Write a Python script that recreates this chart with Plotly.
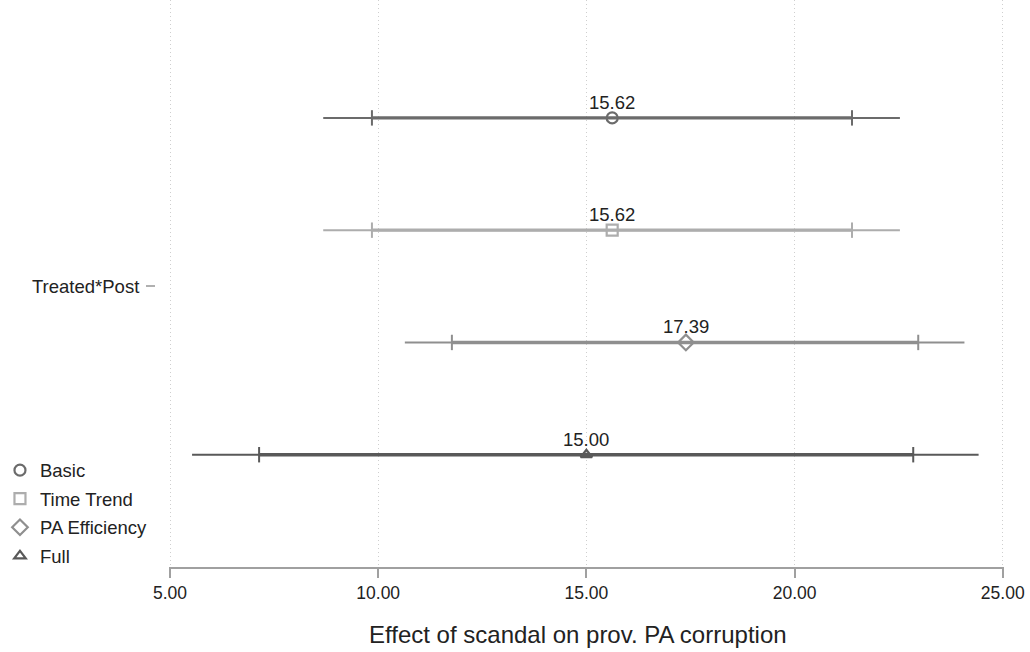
import plotly.graph_objects as go

# Model estimates for the Treated*Post coefficient
models = ["Basic", "Time Trend", "PA Efficiency", "Full"]
estimates = [15.62, 15.62, 17.39, 15.00]
ci90_low = [9.85, 9.85, 11.77, 7.14]
ci90_high = [21.38, 21.38, 22.97, 22.85]
ci95_low = [8.68, 8.68, 10.64, 5.53]
ci95_high = [22.53, 22.53, 24.08, 24.42]
rows = [4, 3, 2, 1]

colors = ["#6b6b6b", "#adadad", "#8f8f8f", "#595959"]
symbols = ["circle-open", "square-open", "diamond-open", "triangle-up-open"]
marker_sizes = [11, 11, 12, 10]

x_ticks = [5, 10, 15, 20, 25]
x_tick_labels = ["5.00", "10.00", "15.00", "20.00", "25.00"]
x_title = "Effect of scandal on prov. PA corruption"

fig = go.Figure()
annotations = []

for i, name in enumerate(models):
    y = rows[i]
    c = colors[i]
    # wide interval (thin line)
    fig.add_trace(go.Scatter(
        x=[ci95_low[i], ci95_high[i]], y=[y, y], mode="lines",
        line=dict(color=c, width=2), showlegend=False, hoverinfo="skip"))
    # narrow interval (thick line)
    fig.add_trace(go.Scatter(
        x=[ci90_low[i], ci90_high[i]], y=[y, y], mode="lines",
        line=dict(color=c, width=3.4), showlegend=False, hoverinfo="skip"))
    # end caps of the narrow interval
    fig.add_trace(go.Scatter(
        x=[ci90_low[i], ci90_high[i]], y=[y, y], mode="markers",
        marker=dict(symbol="line-ns", size=11, line=dict(color=c, width=2)),
        showlegend=False, hoverinfo="skip"))
    # point estimate
    fig.add_trace(go.Scatter(
        x=[estimates[i]], y=[y], mode="markers", name=name,
        legendgroup=name,
        marker=dict(symbol=symbols[i], size=marker_sizes[i],
                    color=c, line=dict(color=c, width=2.2))))
    # value label
    annotations.append(dict(
        x=estimates[i], y=y, xref="x", yref="y",
        text=f"{estimates[i]:.2f}", showarrow=False,
        yanchor="bottom", yshift=3,
        font=dict(size=18.5, color="#222222")))

# axis title, set slightly left of the plot centre
annotations.append(dict(
    x=0.4982, y=-0.119, xref="paper", yref="paper",
    xanchor="center", yanchor="middle", showarrow=False,
    text=x_title, font=dict(size=24, color="#222222")))

fig.update_layout(
    width=1030, height=652,
    margin=dict(l=155, r=26, t=0, b=85, autoexpand=False),
    paper_bgcolor="white", plot_bgcolor="white",
    font=dict(family="Liberation Sans, Arial, sans-serif", size=18, color="#222222"),
    showlegend=True,
    annotations=annotations,
    legend=dict(
        x=-0.1826, y=0.2035, xanchor="left", yanchor="top",
        bgcolor="rgba(0,0,0,0)", font=dict(size=18.5), tracegroupgap=1.5,
        itemwidth=30,
    ),
    xaxis=dict(
        domain=[13.75 / 849, 1], automargin=False,
        range=[4.97, 25.03], tickvals=x_ticks, ticktext=x_tick_labels,
        showline=True, linecolor="#a0a0a0", linewidth=1.5,
        ticks="outside", ticklen=9, tickcolor="#a0a0a0", tickwidth=1.5,
        showgrid=True, gridcolor="#cfcfcf", griddash="1px,3px", gridwidth=1.2,
        zeroline=False, tickfont=dict(size=17.5),
    ),
    yaxis=dict(
        anchor="free", position=0, automargin=False,
        range=[0, 5.05], tickvals=[2.5], ticktext=["Treated*Post"],
        showline=False, showgrid=False, zeroline=False,
        ticks="outside", ticklen=9, tickcolor="#b0b0b0", tickwidth=1.5,
        tickfont=dict(size=18.5), ticklabelstandoff=3,
    ),
)

fig.write_html("out.html")
